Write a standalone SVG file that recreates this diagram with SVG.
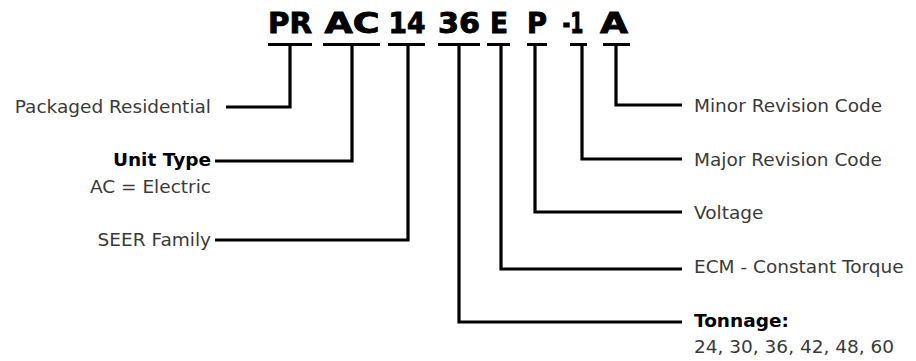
<svg xmlns="http://www.w3.org/2000/svg" width="916" height="361" viewBox="0 0 916 361">
<style>
.code{font-family:"DejaVu Sans","Liberation Sans",sans-serif;font-weight:bold;font-size:28px;fill:#000;stroke:#000;stroke-width:0.9;text-anchor:middle}
.lbl{font-family:"DejaVu Sans","Liberation Sans",sans-serif;font-size:18.5px;fill:#3a3a3a}
.b{font-weight:bold;fill:#000}
.l{text-anchor:end}
.bar{fill:#000}
.ln{fill:none;stroke:#000;stroke-width:3.2;stroke-linejoin:miter}
</style>
<rect width="916" height="361" fill="#fff"/>
<g id="code">
<text class="code" x="290" y="33" textLength="44" lengthAdjust="spacingAndGlyphs">PR</text>
<text class="code" x="352" y="33" textLength="55" lengthAdjust="spacingAndGlyphs">AC</text>
<text class="code" x="407" y="33" textLength="37" lengthAdjust="spacingAndGlyphs">14</text>
<text class="code" x="459" y="33" textLength="42" lengthAdjust="spacingAndGlyphs">36</text>
<text class="code" x="499" y="33" textLength="18" lengthAdjust="spacingAndGlyphs">E</text>
<text class="code" x="537" y="33" textLength="20" lengthAdjust="spacingAndGlyphs">P</text>
<text class="code" x="573" y="33" textLength="21" lengthAdjust="spacingAndGlyphs">-1</text>
<text class="code" x="614" y="33" textLength="28" lengthAdjust="spacingAndGlyphs">A</text>
</g>
<g id="bars">
<rect class="bar" x="268" y="43" width="44" height="3"/>
<rect class="bar" x="323" y="43" width="57" height="3"/>
<rect class="bar" x="388" y="43" width="37" height="3"/>
<rect class="bar" x="438" y="43" width="42" height="3"/>
<rect class="bar" x="487" y="43" width="23" height="3"/>
<rect class="bar" x="527" y="43" width="20" height="3"/>
<rect class="bar" x="570" y="43" width="17" height="3"/>
<rect class="bar" x="603" y="43" width="27" height="3"/>
</g>
<g id="connectors">
<polyline class="ln" points="290,45 290,107 226,107"/>
<polyline class="ln" points="352,45 352,161 215,161"/>
<polyline class="ln" points="408,45 408,240 215,240"/>
<polyline class="ln" points="459,45 459,322 682,322"/>
<polyline class="ln" points="501,45 501,269 682,269"/>
<polyline class="ln" points="535,45 535,212 682,212"/>
<polyline class="ln" points="582,45 582,159 682,159"/>
<polyline class="ln" points="616,45 616,105 682,105"/>
</g>
<g id="packaged-residential"><text class="lbl l" x="211" y="113">Packaged Residential</text></g>
<g id="unit-type"><text class="lbl l b" x="211" y="166">Unit Type</text><text class="lbl l" x="211" y="193">AC = Electric</text></g>
<g id="seer-family"><text class="lbl l" x="211" y="246">SEER Family</text></g>
<g id="minor-revision"><text class="lbl" x="694" y="112">Minor Revision Code</text></g>
<g id="major-revision"><text class="lbl" x="694" y="166">Major Revision Code</text></g>
<g id="voltage"><text class="lbl" x="694" y="219">Voltage</text></g>
<g id="ecm"><text class="lbl" x="694" y="273">ECM - Constant Torque</text></g>
<g id="tonnage"><text class="lbl b" x="694" y="327">Tonnage:</text><text class="lbl" x="694" y="353">24, 30, 36, 42, 48, 60</text></g>
</svg>
